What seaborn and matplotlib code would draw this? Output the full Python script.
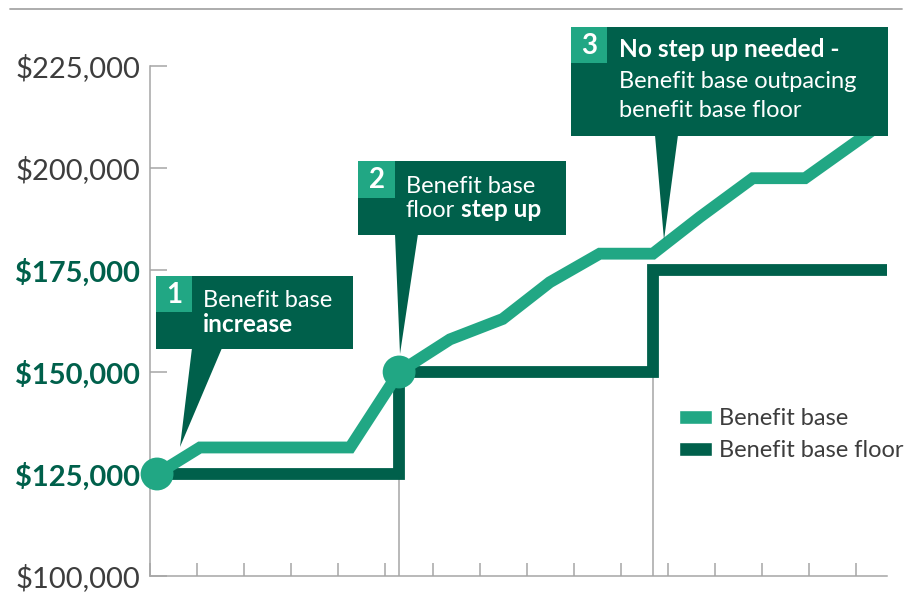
import matplotlib
matplotlib.use("Agg")
import matplotlib.pyplot as plt
import matplotlib.transforms as mtransforms
from matplotlib.patches import Rectangle, Polygon, Patch
from matplotlib.lines import Line2D
import pandas as pd
import seaborn as sns

# benefit base path (x in tick units, y in dollars)
base_x = [0.15, 1.06, 4.25, 5.29, 6.37, 7.49, 8.49, 9.55, 10.68, 11.68, 12.80, 13.91, 15.65]
base_y = [125000, 131500, 131500, 150000, 158000, 163000, 172000, 179000, 179000, 188000, 197500, 197500, 211800]

# benefit base floor steps
floor_x = [0.15, 5.29, 10.68, 15.65]
floor_y = [125000, 150000, 175000, 175000]

# step-up dots
dot_x = [0.15, 5.29]
dot_y = [125000, 150000]

y_ticks = [100000, 125000, 150000, 175000, 200000, 225000]
y_labels = ["$100,000", "$125,000", "$150,000", "$175,000", "$200,000", "$225,000"]
bold_labels = ["$125,000", "$150,000", "$175,000"]
x_ticks = list(range(0, 16))
guide_x = [5.29, 10.68]

series_names = ["Benefit base", "Benefit base floor"]

LIGHT = "#21a784"
DARK = "#00604b"
GRAY = "#a6a6a6"
TEXT = "#3d3d3d"

sns.set_style("white")
plt.rcParams["font.family"] = ["Lato", "DejaVu Sans"]

W, H = 917, 594
fig = plt.figure(figsize=(W / 100, H / 100), dpi=100)
ax = fig.add_axes([150 / W, 1 - 576 / H, (887 - 150) / W, (576 - 66) / H])

base_df = pd.DataFrame({"x": base_x, "y": base_y})
floor_df = pd.DataFrame({"x": floor_x, "y": floor_y})

# thin guide lines under the floor steps
for gx, gy in zip(guide_x, floor_y[1:]):
    ax.vlines(gx, 100000, gy, color=GRAY, lw=1.1, zorder=1)

sns.lineplot(data=floor_df, x="x", y="y", ax=ax, color=DARK, lw=8.5,
             estimator=None, sort=False, drawstyle="steps-post",
             solid_capstyle="butt", solid_joinstyle="miter", zorder=2)
sns.lineplot(data=base_df, x="x", y="y", ax=ax, color=LIGHT, lw=8.5,
             estimator=None, sort=False,
             solid_capstyle="butt", solid_joinstyle="miter", zorder=3)
sns.scatterplot(x=dot_x, y=dot_y, ax=ax, color=LIGHT, s=560, edgecolor="none",
                zorder=4, clip_on=False)

ax.set_xlim(0, 15.65)
ax.set_ylim(100000, 225000)
ax.set_xlabel("")
ax.set_ylabel("")
ax.set_xticks(x_ticks)
ax.set_xticklabels([])
ax.set_yticks(y_ticks)
ax.set_yticklabels(y_labels)
for lab in ax.get_yticklabels():
    if lab.get_text() in bold_labels:
        lab.set_color(DARK)
        lab.set_fontweight("bold")
    else:
        lab.set_color(TEXT)
ax.tick_params(axis="y", left=True, direction="in", length=12, width=1.1,
               color=GRAY, labelsize=21, pad=7)
ax.tick_params(axis="x", bottom=True, direction="in", length=9.5, width=1.1,
               color=GRAY)
for side in ["top", "right"]:
    ax.spines[side].set_visible(False)
for side in ["left", "bottom"]:
    ax.spines[side].set_color(GRAY)
    ax.spines[side].set_linewidth(1.1)
ax.patch.set_alpha(0)

# pixel transform (top-left origin) for layout items
px = mtransforms.Affine2D().scale(1 / W, -1 / H).translate(0, 1) + fig.transFigure

fig.add_artist(Line2D([10, 902], [9, 9], color=GRAY, lw=1.3, transform=px))


def callout(box, sq, num, pointer, lines):
    x0, y0, x1, y1 = box
    fig.add_artist(Polygon([(pointer[0], y1 - 1), (pointer[1], y1 - 1), pointer[2]],
                           closed=True, facecolor=DARK, edgecolor="none",
                           transform=px, zorder=5))
    fig.add_artist(Rectangle((x0, y0), x1 - x0, y1 - y0, facecolor=DARK,
                             edgecolor="none", transform=px, zorder=5))
    fig.add_artist(Rectangle((x0, y0), sq, sq, facecolor=LIGHT,
                             edgecolor="none", transform=px, zorder=6))
    fig.text(x0 + sq / 2, y0 + sq / 2 + 1, num, color="white", fontsize=20,
             fontweight="bold", ha="center", va="center", transform=px, zorder=7)
    for tx, ty, s, wt in lines:
        size = 17.6 if wt == "bold" else 17
        fig.text(tx, ty, s, color="white", fontsize=size, fontweight=wt,
                 ha="left", va="baseline", transform=px, zorder=7)


callout((156, 276, 353, 349), 36, "1", (192, 222, (180, 447)),
        [(203, 307, "Benefit base", "normal"), (203, 332, "increase", "bold")])
callout((358, 161, 566, 235), 37, "2", (395, 418, (400, 354)),
        [(406, 193, "Benefit base", "normal"), (406, 217, "floor", "normal"),
         (461, 217, "step up", "bold")])
callout((571, 27, 888, 136), 36, "3", (655, 678, (664, 240)),
        [(619, 57, "No step up needed -", "bold"),
         (619, 88, "Benefit base outpacing", "normal"),
         (619, 117, "benefit base floor", "normal")])

handles = [Patch(facecolor=LIGHT, label=series_names[0]),
           Patch(facecolor=DARK, label=series_names[1])]
leg = ax.legend(handles=handles, loc="upper left",
                bbox_to_anchor=(679 / W, 1 - 408 / H), bbox_transform=fig.transFigure,
                frameon=False, fontsize=17, handlelength=1.4, handleheight=0.55,
                handletextpad=0.3, labelspacing=0.48, borderpad=0, borderaxespad=0)
for t in leg.get_texts():
    t.set_color(TEXT)

fig.savefig("out.png", dpi=100)
